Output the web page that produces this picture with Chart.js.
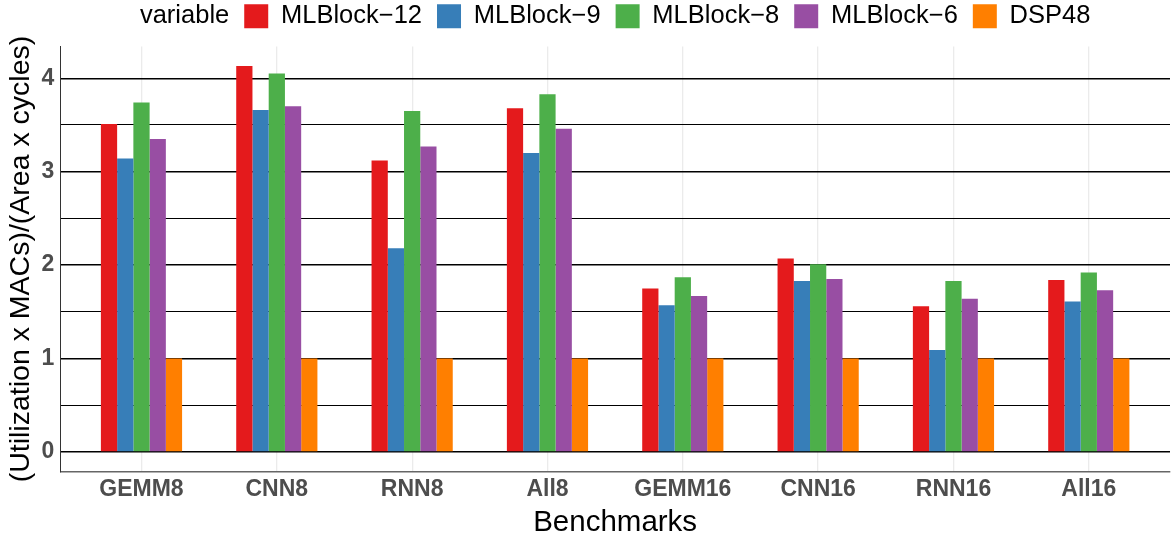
<!DOCTYPE html>
<html lang="en">
  <head>
    <title>Benchmarks</title>
    <meta charset="UTF-8" />
    <script src="https://cdn.jsdelivr.net/npm/chart.js"></script>
    <style>
      body { margin: 0; background: #fff; }
      .block { width: 1172px; height: 541px; position: relative; }
    </style>
  </head>
  <body>
    <div class="block">
      <canvas id="chart"></canvas>
    </div>

    <script>
      const categories = ['GEMM8', 'CNN8', 'RNN8', 'All8', 'GEMM16', 'CNN16', 'RNN16', 'All16'];
      const seriesNames = ['MLBlock\u221212', 'MLBlock\u22129', 'MLBlock\u22128', 'MLBlock\u22126', 'DSP48'];
      const mlblock12 = [3.51, 4.13, 3.12, 3.68, 1.75, 2.07, 1.56, 1.84];
      const mlblock9 = [3.14, 3.66, 2.18, 3.20, 1.57, 1.83, 1.09, 1.61];
      const mlblock8 = [3.74, 4.05, 3.65, 3.83, 1.87, 2.01, 1.83, 1.92];
      const mlblock6 = [3.35, 3.70, 3.27, 3.46, 1.67, 1.85, 1.64, 1.73];
      const dsp48 = [1, 1, 1, 1, 1, 1, 1, 1];
      const yTicks = [0, 1, 2, 3, 4];

      const colors = ['#E41A1C', '#377EB8', '#4DAF4A', '#984EA3', '#FF7F00'];
      const FONT = "'Liberation Sans', Arial, sans-serif";
      const legendFont = { family: FONT, size: 25.5 };

      // ggplot style legend: "variable" title on the same row, whole block centered on the panel
      const legendTitle = {
        id: 'legendTitle',
        afterLayout(chart) {
          const lg = chart.legend;
          const ca = chart.chartArea;
          const ctx = chart.ctx;
          ctx.save();
          ctx.font = legendFont.size + 'px ' + FONT;
          const titleW = ctx.measureText('variable').width + 15;
          ctx.restore();
          const pad = lg.options.labels.padding;
          const itemsW = lg.lineWidths[0] - pad;
          const curStart = (lg.left + pad + lg.right - lg.lineWidths[0]) / 2;
          const wantStart = (ca.left + ca.right) / 2 - (titleW + itemsW) / 2 + titleW;
          const dx = wantStart - curStart;
          lg.left += dx;
          lg.right += dx;
          lg.top -= 7.5;
          lg.bottom -= 7.5;
        },
        afterDraw(chart) {
          const box = chart.legend.legendHitBoxes[0];
          if (!box) return;
          const ctx = chart.ctx;
          ctx.save();
          ctx.font = legendFont.size + 'px ' + FONT;
          ctx.fillStyle = '#000';
          ctx.textAlign = 'right';
          ctx.textBaseline = 'middle';
          ctx.fillText('variable', box.left - 15, box.top + box.height / 2);
          ctx.restore();
        },
      };

      const values = [mlblock12, mlblock9, mlblock8, mlblock6, dsp48];

      const ctx = document.getElementById('chart').getContext('2d');
      const chart = new Chart(ctx, {
        type: 'bar',
        data: {
          datasets: values.map((vals, k) => ({
            label: seriesNames[k],
            data: vals.map((v, i) => ({ x: i, y: v })),
            backgroundColor: colors[k],
            borderWidth: 0,
            categoryPercentage: 0.6,
            barPercentage: 1.0,
          })),
        },
        options: {
          responsive: true,
          maintainAspectRatio: false,
          animation: false,
          layout: { padding: { top: -4, left: 0, right: 2, bottom: 0 } },
          plugins: {
            tooltip: { enabled: false },
            legend: {
              position: 'top',
              labels: {
                boxWidth: 24,
                boxHeight: 24,
                padding: 15,
                color: '#000',
                font: legendFont,
              },
            },
          },
          scales: {
            x: {
              type: 'linear',
              offset: false,
              min: -0.6,
              max: 7.6,
              afterBuildTicks: (s) => {
                s.ticks = categories.map((c, i) => ({ value: i }));
                s.min = -0.6;
                s.max = 7.6;
              },
              ticks: {
                stepSize: 1,
                includeBounds: false,
                padding: 7,
                color: '#4D4D4D',
                font: { family: FONT, size: 23, weight: 'bold', lineHeight: 1 },
                callback: (v) => categories[v] ?? '',
                maxRotation: 0,
              },
              grid: { offset: false, color: '#EBEBEB', lineWidth: 1.3, drawTicks: false },
              border: { display: true, color: '#666', width: 1.5 },
              title: {
                display: true,
                text: 'Benchmarks',
                color: '#000',
                font: { family: FONT, size: 29.5, lineHeight: 1 },
                padding: { top: 0, bottom: 3 },
              },
            },
            y: {
              min: -0.21,
              max: 4.34,
              ticks: {
                stepSize: 0.5,
                includeBounds: false,
                padding: 6,
                color: '#4D4D4D',
                font: { family: FONT, size: 23, weight: 'bold', lineHeight: 1 },
                callback: (v) => (yTicks.includes(v) ? v : ''),
              },
              grid: {
                color: '#000',
                lineWidth: (c) => (yTicks.includes(c.tick && c.tick.value) ? 1.4 : 1.1),
                drawTicks: false,
              },
              border: { display: true, color: '#333', width: 1 },
              title: {
                display: true,
                text: '(Utilization x MACs)/(Area x cycles)',
                color: '#000',
                font: { family: FONT, size: 28.5, lineHeight: 1 },
                padding: { top: 7, bottom: 0 },
              },
            },
          },
        },
        plugins: [legendTitle],
      });
    </script>
  </body>
</html>
